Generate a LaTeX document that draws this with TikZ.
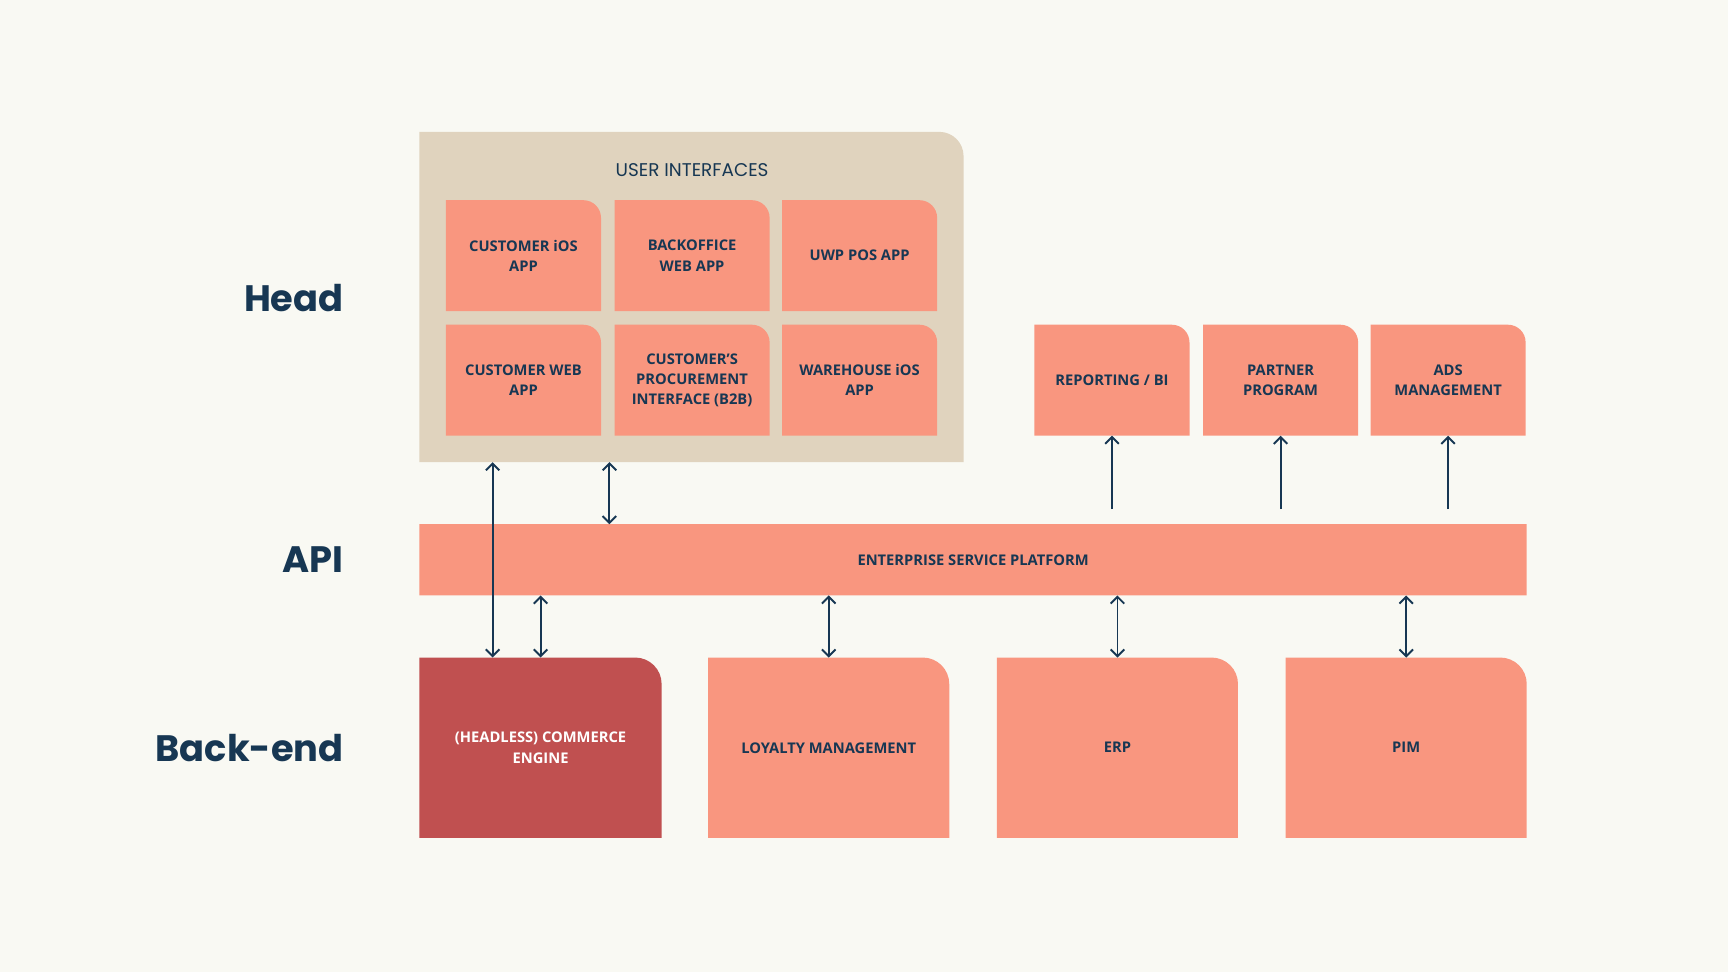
\documentclass[tikz,border=0pt]{standalone}
\usepackage{fontspec}
\setmainfont{Open Sans}
\newfontfamily\headfont{Poppins}
\usetikzlibrary{arrows.meta,backgrounds}
\definecolor{bgc}{HTML}{F9F9F3}
\definecolor{tan}{HTML}{E0D3BE}
\definecolor{salmon}{HTML}{F9967F}
\definecolor{dred}{HTML}{C05050}
\definecolor{navy}{HTML}{173753}
\newcommand{\rbx}[9]{%
  \node[inner sep=0pt, align=center, text=#7, font=\fontsize{7.6}{10.5}\selectfont,
    minimum width={(#4-#2)*0.02cm}, minimum height={(#5-#3)*0.02cm}]
    (#1) at ({(#2+#4)/2},{-(#3+#5)/2}) {#8};
  \begin{scope}[on background layer]
    \fill[#6] (#1.south west) -- (#1.south east) -- ([yshift=-#9*0.02cm]#1.north east)
      arc[start angle=0,end angle=90,radius=#9*0.02cm] -- (#1.north west) -- cycle;
  \end{scope}}
\begin{document}
\begin{tikzpicture}[x=0.02cm,y=0.02cm,
  arr/.style={navy, line width=1pt, {Straight Barb[length=3.5pt,width=7pt]}-{Straight Barb[length=3.5pt,width=7pt]}},
  uarr/.style={navy, line width=1pt, -{Straight Barb[length=3.5pt,width=7pt]}},
  lab/.style={anchor=east, text=navy, font=\headfont\fontsize{19}{22}\selectfont\bfseries}]
\begin{scope}[on background layer]
\fill[bgc] (0,0) rectangle (1568,-882);
\end{scope}
\useasboundingbox (0,0) rectangle (1568,-882);
\rbx{ui}{381}{120}{874}{419}{tan}{navy}{}{22}
\node[text=navy, font=\headfont\fontsize{9.5}{11}\selectfont] (uit) at (628,-154) {USER INTERFACES};
\rbx{a1}{405}{182}{545}{282}{salmon}{navy}{\textbf{CUSTOMER iOS}\\\textbf{APP}}{16}
\rbx{a2}{558}{182}{698}{282}{salmon}{navy}{\textbf{BACKOFFICE}\\\textbf{WEB APP}}{16}
\rbx{a3}{710}{182}{850}{282}{salmon}{navy}{\textbf{UWP POS APP}}{16}
\rbx{b1}{405}{295}{545}{395}{salmon}{navy}{\textbf{CUSTOMER WEB}\\\textbf{APP}}{16}
\rbx{b2}{558}{295}{698}{395}{salmon}{navy}{\textbf{CUSTOMER'S}\\\textbf{PROCUREMENT}\\\textbf{INTERFACE (B2B)}}{16}
\rbx{b3}{710}{295}{850}{395}{salmon}{navy}{\textbf{WAREHOUSE iOS}\\\textbf{APP}}{16}
\rbx{r1}{939}{295}{1079}{395}{salmon}{navy}{\textbf{REPORTING / BI}}{16}
\rbx{r2}{1092}{295}{1232}{395}{salmon}{navy}{\textbf{PARTNER}\\\textbf{PROGRAM}}{16}
\rbx{r3}{1244}{295}{1384}{395}{salmon}{navy}{\textbf{ADS}\\\textbf{MANAGEMENT}}{16}
\rbx{esp}{381}{476}{1385}{540}{salmon}{navy}{\textbf{ENTERPRISE SERVICE PLATFORM}}{0.01}
\rbx{c1}{381}{597}{600}{760}{dred}{white}{\textbf{(HEADLESS) COMMERCE}\\\textbf{ENGINE}}{24}
\rbx{c2}{643}{597}{861}{760}{salmon}{navy}{\textbf{LOYALTY MANAGEMENT}}{24}
\rbx{c3}{905}{597}{1123}{760}{salmon}{navy}{\textbf{ERP}}{24}
\rbx{c4}{1167}{597}{1385}{760}{salmon}{navy}{\textbf{PIM}}{24}
\node[lab] (lh) at (318,-270) {Head};
\node[lab] (la) at (318,-508) {API};
\node[lab] (lb) at (318,-679) {Back-end};
\draw[arr] (ui.south -| 447,0) -- (c1.north -| 447,0);
\draw[arr] (ui.south -| 553,0) -- (esp.north -| 553,0);
\draw[arr] (esp.south -| c1) -- (c1.north);
\draw[arr] (esp.south -| c2) -- (c2.north);
\draw[arr] (esp.south -| c3) -- (c3.north);
\draw[arr] (esp.south -| c4) -- (c4.north);
\coordinate (u1) at (r1.south |- 0,-462);
\coordinate (u2) at (r2.south |- 0,-462);
\coordinate (u3) at (r3.south |- 0,-462);
\draw[uarr] (u1) -- (r1.south);
\draw[uarr] (u2) -- (r2.south);
\draw[uarr] (u3) -- (r3.south);
\end{tikzpicture}
\end{document}
